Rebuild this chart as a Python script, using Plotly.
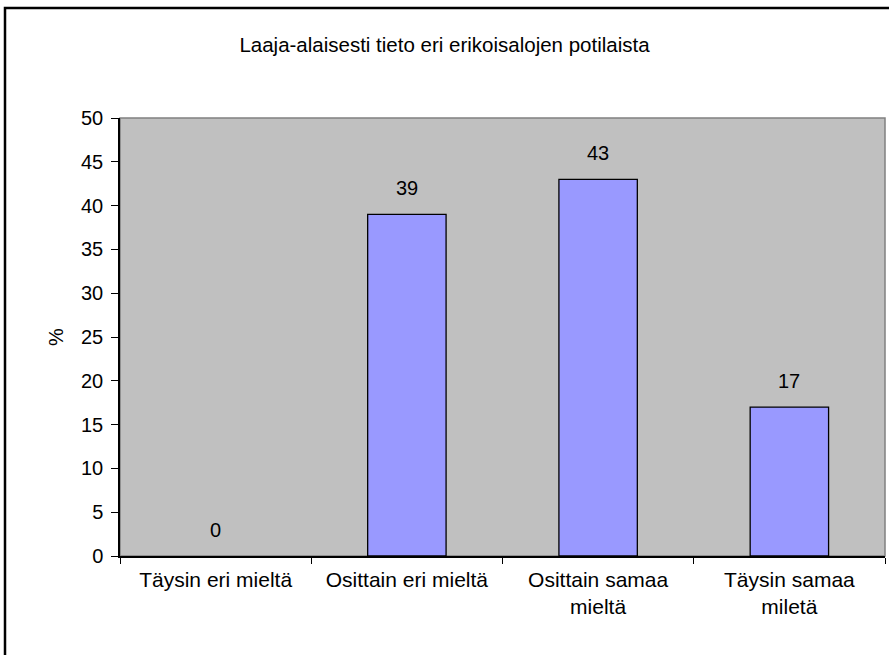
import plotly.graph_objects as go

# Survey answers: share of respondents (%) per answer option
categories = ["Täysin eri mieltä", "Osittain eri mieltä", "Osittain samaa<br>mieltä", "Täysin samaa<br>miletä"]
percent = [0, 39, 43, 17]
y_ticks = [0, 5, 10, 15, 20, 25, 30, 35, 40, 45, 50]

title_text = "Laaja-alaisesti tieto eri erikoisalojen potilaista"
y_title = "%"

FONT = "Liberation Sans, Arial, sans-serif"

fig = go.Figure()
fig.add_trace(go.Bar(
    x=categories,
    y=percent,
    width=0.41,
    marker=dict(color="#9999FF",
                line=dict(color="black", width=[1.3 if v > 0 else 0 for v in percent])),
    hoverinfo="x+y",
))

# value labels above each bar
for c, v in zip(categories, percent):
    fig.add_annotation(
        x=c, y=v, text=str(v), showarrow=False,
        yanchor="bottom", yshift=13,
        font=dict(family=FONT, size=20, color="black"),
    )

fig.update_layout(
    width=889, height=655,
    margin=dict(l=120, r=4, t=118, b=99),
    paper_bgcolor="white",
    plot_bgcolor="#C0C0C0",
    showlegend=False,
    font=dict(family=FONT, size=20, color="black"),
    title=dict(text=title_text, x=0.5, xanchor="center", y=1 - 45 / 655, yanchor="middle",
               font=dict(family=FONT, size=20.5, color="black")),
)

fig.update_xaxes(
    showgrid=False, showline=True, linecolor="black", linewidth=1.5,
    ticks="outside", tickson="boundaries", ticklen=6, tickcolor="black", tickwidth=1.2,
    tickfont=dict(family=FONT, size=21), ticklabelstandoff=4, mirror=False,
)
fig.update_yaxes(
    range=[0, 50], tickvals=y_ticks, showgrid=False, zeroline=False,
    showline=True, linecolor="black", linewidth=1.5,
    ticks="outside", ticklen=7, tickcolor="black", tickwidth=1.2,
    tickfont=dict(family=FONT, size=20), ticklabelstandoff=4,
    title=dict(text=y_title, font=dict(family=FONT, size=20), standoff=12),
)

# plot-area frame and the outer chart border
fig.add_shape(type="rect", xref="paper", yref="paper", x0=0, x1=1, y0=0, y1=1,
              line=dict(color="#808080", width=1.5), layer="below")
fig.add_shape(type="rect", xref="paper", yref="paper",
              x0=(5 - 120) / 765, x1=1.05, y0=-0.3, y1=(556 - 8) / 438,
              line=dict(color="black", width=2.5))

fig.write_html("out.html")
